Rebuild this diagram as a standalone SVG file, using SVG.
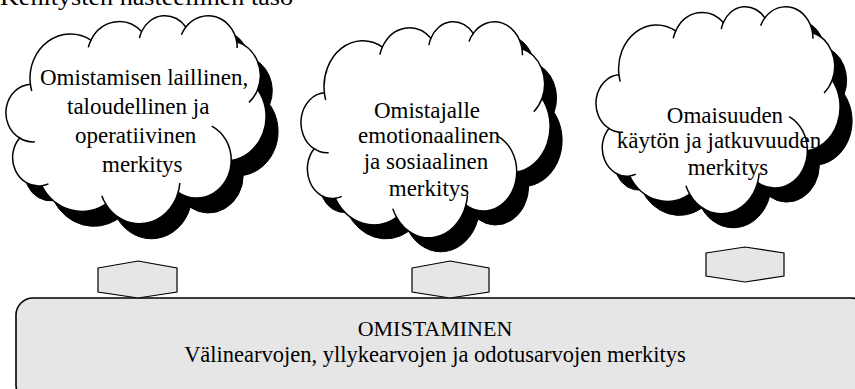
<svg xmlns="http://www.w3.org/2000/svg" xmlns:xlink="http://www.w3.org/1999/xlink" width="855" height="389" viewBox="0 0 855 389">
<style>
text{font-family:"Liberation Serif","Times New Roman",serif;font-size:23px;fill:#000}
.c{text-anchor:middle}
.cloud{fill:#fff;stroke:#000;stroke-width:1.5}
.shadow{fill:#000;stroke:#000;stroke-width:1}
.tick{fill:none;stroke:#000;stroke-width:1.5}
.hex{fill:#e6e6e6;stroke:#000;stroke-width:1.2}
.base{fill:#e6e6e6;stroke:#000;stroke-width:1.6}
</style>
<defs>
<path id="cl" vector-effect="non-scaling-stroke" d="M3900 14370 A6753 9190 0 0 1 14005 5202 A5333 7267 0 0 1 22455 3434 A4365 5945 0 0 1 29833 2483 A4857 6595 0 0 1 38318 5578 A5333 7273 0 0 1 41818 15461 A6775 9220 0 0 1 37403 30202 A5785 7867 0 0 1 28555 36812 A6752 9215 0 0 1 16481 39265 A7720 10543 0 0 1 5803 35467 A4360 5918 0 0 1 2112 25544 A4345 5945 0 0 1 3900 14370 Z"/>
<path id="tk" vector-effect="non-scaling-stroke" d="M4645 26341 A4345 5945 0 0 1 2112 25544 M6912 35085 A4360 5918 0 0 1 5803 35467 M16481 39265 A6752 9215 0 0 1 15812 37523 M28822 34903 A6752 9215 0 0 1 28555 36812 M34152 23066 A5785 7867 0 0 1 37403 30202 M41818 15461 A5333 7273 0 0 1 40370 18137 M38318 5578 A4857 6595 0 0 1 38395 6842 M29091 4096 A4857 6595 0 0 1 29833 2483 M22095 4823 A4365 5945 0 0 1 22455 3434 M13562 6738 A5333 7267 0 0 1 14005 5202 M4127 15788 A6753 9190 0 0 1 3900 14370"/>
</defs>
<text x="0" y="5" textLength="293" lengthAdjust="spacingAndGlyphs">Kehitysten hasteellinen taso</text>
<g id="cloud1">
<use xlink:href="#cl" class="shadow" transform="translate(19,30) scale(0.005995,0.004815)"/>
<use xlink:href="#cl" class="cloud" transform="translate(7,15) scale(0.005995,0.004815)"/>
<use xlink:href="#tk" class="tick" transform="translate(7,15) scale(0.005995,0.004815)"/>
<text x="40" y="85">Omistamisen laillinen,</text>
<text x="67" y="114">taloudellinen ja</text>
<text x="75" y="143">operatiivinen</text>
<text x="102" y="172">merkitys</text>
</g>
<g id="cloud2">
<use xlink:href="#cl" class="shadow" transform="translate(314,35) scale(0.005741,0.005)"/>
<use xlink:href="#cl" class="cloud" transform="translate(302,21) scale(0.005741,0.005)"/>
<use xlink:href="#tk" class="tick" transform="translate(302,21) scale(0.005741,0.005)"/>
<text class="c" x="427" y="118">Omistajalle</text>
<text class="c" x="429" y="143">emotionaalinen</text>
<text class="c" x="426" y="169">ja sosiaalinen</text>
<text class="c" x="429" y="196">merkitys</text>
</g>
<g id="cloud3">
<use xlink:href="#cl" class="shadow" transform="translate(609,20) scale(0.005625,0.004792)"/>
<use xlink:href="#cl" class="cloud" transform="translate(597,6) scale(0.005625,0.004792)"/>
<use xlink:href="#tk" class="tick" transform="translate(597,6) scale(0.005625,0.004792)"/>
<text class="c" x="725" y="123">Omaisuuden</text>
<text class="c" x="719" y="148">käytön ja jatkuvuuden</text>
<text class="c" x="728" y="175">merkitys</text>
</g>
<g id="base">
<rect class="base" x="16" y="298" width="852" height="104" rx="17" ry="17"/>
<text class="c" x="435" y="336" style="font-size:22px">OMISTAMINEN</text>
<text class="c" x="435" y="362" style="font-size:22.5px">Välinearvojen, yllykearvojen ja odotusarvojen merkitys</text>
</g>
<g id="connectors">
<polygon class="hex" points="98,268 138,261 177,268 177,292 138,298 98,292"/>
<polygon class="hex" points="412,268 450,261 489,268 489,292 450,298 412,292"/>
<polygon class="hex" points="706,253 745,247 784,253 784,276 745,282 706,276"/>
</g>
</svg>
